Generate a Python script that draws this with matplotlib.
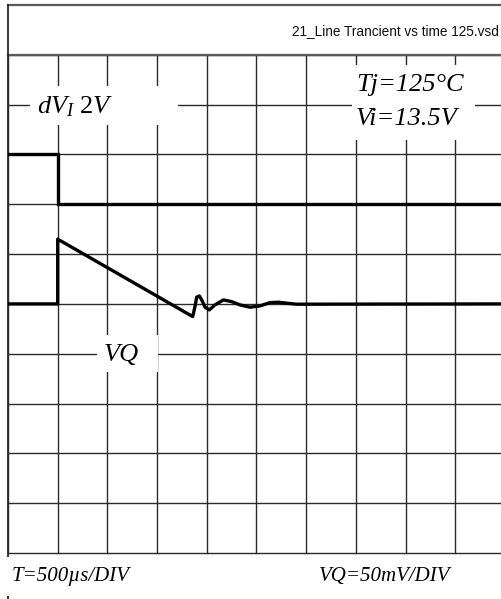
import matplotlib
matplotlib.use("Agg")
import matplotlib.pyplot as plt
from matplotlib.patches import Rectangle

plt.rcParams['mathtext.fontset'] = 'custom'
plt.rcParams['mathtext.it'] = 'Liberation Serif:italic'
plt.rcParams['mathtext.rm'] = 'Liberation Serif'

# ---- data ----
time_per_div_us = 500.0
vq_per_div_mV = 50.0
dvi_per_div_V = 2.0

dvi_time_us = [0, 500, 500, 5000]
dvi_V = [2, 2, 0, 0]

vq_time_us = [0, 500, 500, 1858, 1881, 1898, 1925, 1949, 1982, 2025, 2082,
              2166, 2250, 2334, 2435, 2535, 2636, 2719, 2804, 2904, 5000]
vq_mV = [0, 0, 65, -12.7, -2.7, 6.7, 8, 4, -3.3, -6, -1,
         4, 2.3, -1, -3.3, -2, 1.3, 1.7, 0.7, -0.3, 0]

title_text = "21_Line Trancient vs time 125.vsd"
label_dvi = r"$\mathit{dV_I\ 2V}$"
label_tj = "Tj=125°C"
label_vi = "Vi=13.5V"
label_vq = "VQ"
label_time = "T=500µs/DIV"
label_scale = "VQ=50mV/DIV"

# ---- layout ----
W, H = 502, 599
fig = plt.figure(figsize=(W / 100, H / 100), dpi=100)
x0_px, x1_px = 8, 505
y_top_px, y_bot_px = 5, 553
ax = fig.add_axes([x0_px / W, (H - y_bot_px) / H,
                   (x1_px - x0_px) / W, (y_bot_px - y_top_px) / H])
ax.set_xlim(0, 10)
ax.set_ylim(0, 11)
ax.axis('off')

pxx = (x1_px - x0_px) / 10.0
pxy = (y_bot_px - y_top_px) / 11.0
def dx(px):
    return (px - x0_px) / pxx
def dy(py):
    return (y_bot_px - py) / pxy

grid_c = '#2a2a2a'
frame_c = '#5a5a5a'
# grid
for i in range(11):
    ax.plot([i, i], [0, 10], color=grid_c, lw=1.0, zorder=1, clip_on=False)
for j in range(11):
    ax.plot([0, 10], [j, j], color=grid_c, lw=1.0, zorder=1, clip_on=False)
# frame
ax.plot([0, 10.2], [11, 11], color=frame_c, lw=1.6, zorder=1, clip_on=False)
ax.plot([0, 10.2], [10, 10], color=frame_c, lw=1.6, zorder=1, clip_on=False)
ax.plot([0, 0], [11, dy(600)], color=grid_c, lw=1.3, zorder=1, clip_on=False)

# white label boxes breaking the grid
def wbox(xa, ya, xb, yb):
    ax.add_patch(Rectangle((dx(xa), dy(yb)), dx(xb) - dx(xa), dy(ya) - dy(yb),
                           facecolor='white', edgecolor='none', zorder=2,
                           clip_on=False))
wbox(30, 86, 178, 125)
wbox(352, 65, 475, 140)
wbox(97, 335, 158, 372)
wbox(2, 557, 140, 596)

# traces
ax.plot([t / time_per_div_us for t in dvi_time_us],
        [7 + v / dvi_per_div_V for v in dvi_V],
        color='black', lw=2.4, zorder=3, solid_joinstyle='miter')
ax.plot([t / time_per_div_us for t in vq_time_us],
        [5 + v / vq_per_div_mV for v in vq_mV],
        color='black', lw=2.4, zorder=3, solid_joinstyle='round')

# texts
serif = dict(family='Liberation Serif', style='italic', zorder=4)
ax.text(dx(499), dy(35.5), title_text, family='Liberation Sans', fontsize=9.8,
        color='#111111', ha='right', va='baseline', zorder=4, clip_on=False)
ax.text(dx(37), dy(113), label_dvi, fontsize=19, ha='left', va='baseline', zorder=4)
ax.text(dx(356), dy(91), label_tj, fontsize=19, ha='left', va='baseline', **serif)
ax.text(dx(356), dy(125), label_vi, fontsize=19, ha='left', va='baseline', **serif)
ax.text(dx(104), dy(361), label_vq, fontsize=19, ha='left', va='baseline', **serif)
ax.text(dx(12), dy(581), label_time, fontsize=15, ha='left', va='baseline',
        clip_on=False, **serif)
ax.text(dx(319), dy(581), label_scale, fontsize=15, ha='left', va='baseline',
        clip_on=False, **serif)

fig.savefig('out.png', dpi=100, facecolor='white')
